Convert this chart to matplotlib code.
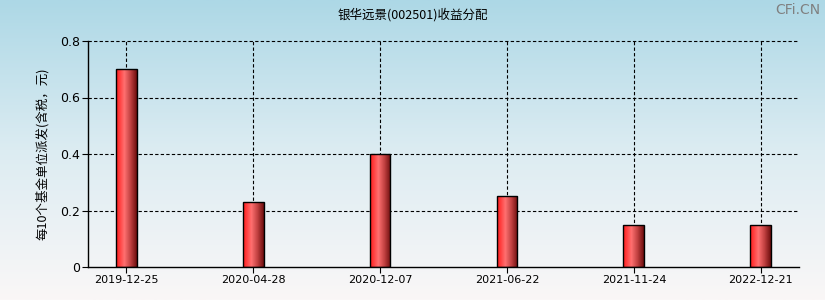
import numpy as np
import matplotlib
matplotlib.use("Agg")
import matplotlib.pyplot as plt
from matplotlib.colors import LinearSegmentedColormap

plt.rcParams['font.family'] = ['Noto Sans CJK SC', 'DejaVu Sans']

dates = ["2019-12-25", "2020-04-28", "2020-12-07", "2021-06-22", "2021-11-24", "2022-12-21"]
values = [0.70, 0.23, 0.40, 0.25, 0.15, 0.15]
yticks = [0, 0.2, 0.4, 0.6, 0.8]
yticklabels = ["0", "0.2", "0.4", "0.6", "0.8"]

fig = plt.figure(figsize=(8.25, 3.0), dpi=100)

# background gradient: light blue at top, near white at bottom
bg = fig.add_axes([0, 0, 1, 1], zorder=0)
grad = np.linspace(0, 1, 256).reshape(-1, 1)
bg_cmap = LinearSegmentedColormap.from_list("bg", ["#faf7f7", "#dcecf2", "#add8e6"])
bg.imshow(grad, aspect="auto", cmap=bg_cmap, origin="lower", extent=[0, 1, 0, 1])
bg.axis("off")

ax = fig.add_axes([88 / 825, 33 / 300, 711 / 825, 226 / 300], zorder=1)
ax.patch.set_alpha(0)

x = np.arange(len(dates))
width = 0.165

# grid
for xi in x:
    ax.axvline(xi, color="black", lw=0.8, ls=(0, (3, 2)), zorder=1)
for yv in yticks[1:]:
    ax.axhline(yv, color="black", lw=0.8, ls=(0, (3, 2)), zorder=1, clip_on=False)

# bars with horizontal shading
bar_cmap = LinearSegmentedColormap.from_list(
    "bar", [(0, "#ff1a1a"), (0.4, "#ff7070"), (0.7, "#c04040"), (1, "#6e0e0e")])
shade = np.linspace(0, 1, 64).reshape(1, -1)
bars = ax.bar(x, values, width=width, facecolor="none", edgecolor="black", lw=1.0, zorder=3)
for rect, xi, v in zip(bars, x, values):
    im = ax.imshow(shade, aspect="auto", cmap=bar_cmap,
                   extent=[xi - width / 2, xi + width / 2, 0, v], zorder=2)
    im.set_clip_path(rect)
ax.set_xlim(-0.3, len(dates) - 0.7)
ax.set_ylim(0, 0.8)

ax.spines["top"].set_visible(False)
ax.spines["right"].set_visible(False)
ax.spines["left"].set_linewidth(1.0)
ax.spines["bottom"].set_linewidth(1.0)

ax.set_xticks(x)
ax.set_xticklabels(dates, fontsize=8, family=["DejaVu Sans"])
ax.set_yticks(yticks)
ax.set_yticklabels(yticklabels, fontsize=9, family=["DejaVu Sans"])
ax.tick_params(axis="both", length=4, width=0.8, pad=2)

ax.set_ylabel("每10个基金单位派发(含税，元)", fontsize=9, labelpad=8)
fig.text(0.5, 0.95, "银华远景(002501)收益分配", ha="center", va="center", fontsize=9)
fig.text(0.995, 0.965, "CFi.CN", ha="right", va="center", fontsize=10, color="#808080",
         family=["DejaVu Sans"])

fig.savefig("out.png", dpi=100)
